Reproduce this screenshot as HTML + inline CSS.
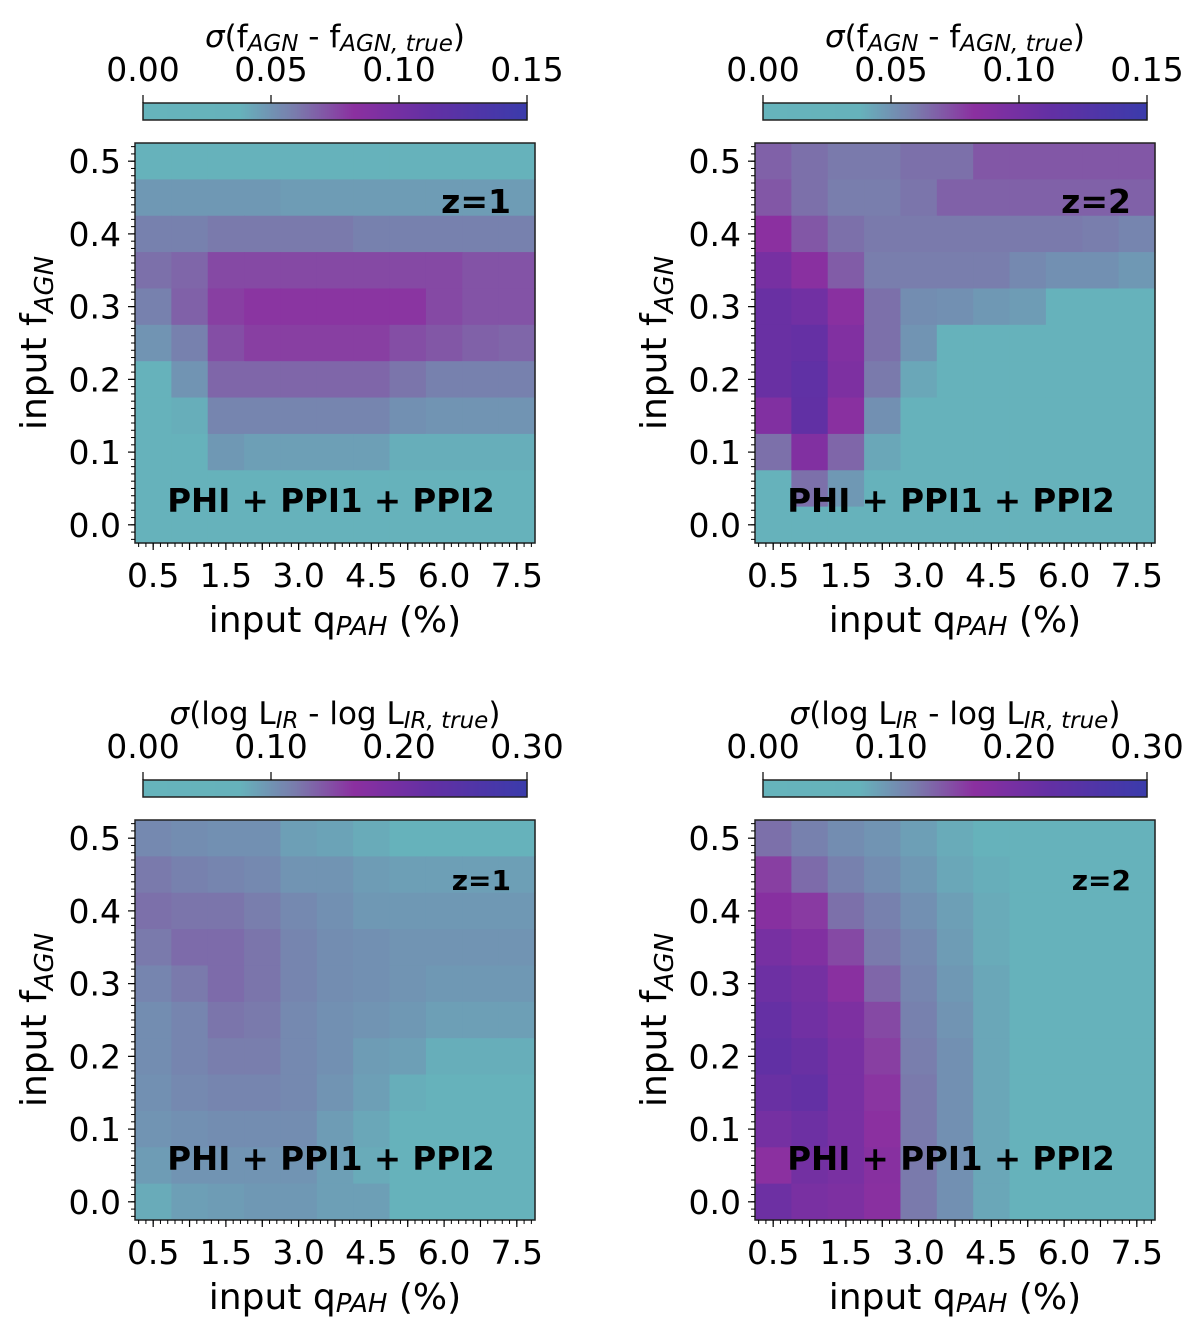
<!DOCTYPE html>
<html><head><meta charset="utf-8">
<style>
html,body{margin:0;padding:0;background:#fff;}
svg{display:block;font-family:"DejaVu Sans","Liberation Sans",sans-serif;}
</style></head>
<body>
<svg id="fig" width="1200" height="1319" viewBox="0 0 1200 1319" xmlns="http://www.w3.org/2000/svg"></svg>
<script>
// Category labels (input qPAH %), 11 columns; labels shown every other column
const xTickLabels = ["0.5","","1.5","","3.0","","4.5","","6.0","","7.5"];
// input f_AGN row values, bottom to top
const yValues = [0.0,0.05,0.1,0.15,0.2,0.25,0.3,0.35,0.4,0.45,0.5];
const yTickLabels = ["0.0","0.1","0.2","0.3","0.4","0.5"];
const cbTicksFagn = ["0.00","0.05","0.10","0.15"];
const cbTicksLir = ["0.00","0.10","0.20","0.30"];
const vmaxFagn = 0.15, vmaxLir = 0.30;
// Values are normalized to the colour bar (value / vmax); rows listed top (0.5) to bottom (0.0)
const fagnZ1 = [
[0.2,0.2,0.2,0.2,0.2,0.2,0.2,0.2,0.2,0.2,0.2],
[0.32,0.32,0.32,0.32,0.31,0.31,0.31,0.31,0.31,0.31,0.31],
[0.38,0.38,0.40,0.40,0.40,0.40,0.38,0.38,0.38,0.38,0.38],
[0.42,0.44,0.50,0.50,0.50,0.50,0.50,0.50,0.50,0.48,0.48],
[0.38,0.45,0.52,0.54,0.54,0.54,0.54,0.54,0.50,0.48,0.48],
[0.33,0.38,0.49,0.52,0.52,0.52,0.52,0.49,0.47,0.45,0.44],
[0.22,0.33,0.44,0.44,0.44,0.44,0.44,0.41,0.38,0.38,0.38],
[0.22,0.26,0.37,0.37,0.37,0.37,0.37,0.34,0.33,0.33,0.33],
[0.2,0.2,0.32,0.30,0.30,0.30,0.30,0.26,0.26,0.26,0.26],
[0.2,0.2,0.2,0.2,0.2,0.2,0.2,0.2,0.2,0.2,0.2],
[0.2,0.2,0.2,0.2,0.2,0.2,0.2,0.2,0.2,0.2,0.2]];
const fagnZ2 = [
[0.45,0.42,0.40,0.40,0.42,0.42,0.47,0.47,0.47,0.47,0.47],
[0.47,0.42,0.39,0.39,0.41,0.45,0.45,0.45,0.45,0.45,0.45],
[0.55,0.47,0.42,0.40,0.40,0.40,0.40,0.40,0.40,0.39,0.37],
[0.65,0.56,0.46,0.39,0.39,0.39,0.39,0.36,0.34,0.34,0.32],
[0.72,0.68,0.56,0.42,0.35,0.34,0.32,0.31,0.2,0.2,0.2],
[0.72,0.74,0.60,0.42,0.33,0.2,0.2,0.2,0.2,0.2,0.2],
[0.72,0.77,0.62,0.40,0.28,0.2,0.2,0.2,0.2,0.2,0.2],
[0.60,0.76,0.56,0.34,0.2,0.2,0.2,0.2,0.2,0.2,0.2],
[0.42,0.60,0.44,0.28,0.2,0.2,0.2,0.2,0.2,0.2,0.2],
[0.2,0.42,0.32,0.2,0.2,0.2,0.2,0.2,0.2,0.2,0.2],
[0.2,0.2,0.2,0.2,0.2,0.2,0.2,0.2,0.2,0.2,0.2]];
const lirZ1 = [
[0.36,0.35,0.34,0.34,0.30,0.29,0.27,0.24,0.24,0.24,0.24],
[0.40,0.38,0.37,0.36,0.33,0.33,0.31,0.30,0.30,0.30,0.30],
[0.42,0.41,0.41,0.39,0.36,0.34,0.32,0.32,0.32,0.32,0.32],
[0.40,0.43,0.43,0.41,0.37,0.35,0.34,0.33,0.33,0.33,0.33],
[0.37,0.40,0.43,0.41,0.37,0.35,0.34,0.33,0.32,0.32,0.32],
[0.35,0.37,0.41,0.40,0.36,0.34,0.33,0.32,0.30,0.30,0.30],
[0.35,0.37,0.39,0.39,0.36,0.34,0.31,0.30,0.26,0.26,0.26],
[0.34,0.36,0.37,0.37,0.36,0.33,0.30,0.26,0.23,0.23,0.23],
[0.33,0.34,0.35,0.35,0.35,0.31,0.28,0.25,0.22,0.22,0.22],
[0.31,0.33,0.33,0.33,0.33,0.30,0.27,0.22,0.22,0.22,0.22],
[0.27,0.30,0.31,0.32,0.32,0.30,0.30,0.22,0.22,0.22,0.22]];
const lirZ2 = [
[0.42,0.38,0.35,0.33,0.30,0.27,0.25,0.22,0.22,0.22,0.22],
[0.52,0.43,0.38,0.35,0.32,0.28,0.26,0.22,0.22,0.22,0.22],
[0.57,0.53,0.42,0.38,0.34,0.30,0.27,0.22,0.22,0.22,0.22],
[0.65,0.60,0.50,0.40,0.36,0.31,0.27,0.22,0.22,0.22,0.22],
[0.70,0.66,0.56,0.44,0.37,0.32,0.28,0.22,0.22,0.22,0.22],
[0.74,0.68,0.62,0.50,0.38,0.33,0.28,0.22,0.22,0.22,0.22],
[0.76,0.72,0.64,0.52,0.39,0.34,0.28,0.22,0.22,0.22,0.22],
[0.72,0.75,0.64,0.54,0.40,0.34,0.28,0.22,0.22,0.22,0.22],
[0.66,0.70,0.64,0.55,0.40,0.34,0.28,0.22,0.22,0.22,0.22],
[0.55,0.67,0.64,0.57,0.40,0.34,0.28,0.22,0.22,0.22,0.22],
[0.70,0.64,0.62,0.56,0.40,0.34,0.28,0.22,0.22,0.22,0.22]];

const NS="http://www.w3.org/2000/svg";
const svg=document.getElementById('fig');
const stops=[[0,[102,180,188]],[0.25,[102,178,187]],[0.4,[122,122,172]],[0.55,[139,48,160]],[0.75,[99,48,164]],[1,[59,59,171]]];
function cmap(t){t=Math.max(0,Math.min(1,t));
 for(let i=1;i<stops.length;i++){if(t<=stops[i][0]){const a=stops[i-1],b=stops[i];const f=(t-a[0])/(b[0]-a[0]);
  const c=a[1].map((v,k)=>Math.round(v+(b[1][k]-v)*f));return `rgb(${c[0]},${c[1]},${c[2]})`;}}
 return 'rgb(59,59,171)';}
function el(tag,attrs,parent){const e=document.createElementNS(NS,tag);for(const k in attrs)e.setAttribute(k,attrs[k]);(parent||svg).appendChild(e);return e;}

function panel(px,py,data,ticks,vmax,cbTitleHTML,zLabel,zSize,cbY,labOff,name){
 const g=el('g',{});
 
 
 const W=400,H=400,n=11,cw=W/n,ch=H/n;
 const xs=i=>px+i*cw;
 const ys=v=>py+H-(v+0.025)/0.55*H;
 for(let r=0;r<n;r++)for(let c=0;c<n;c++){
  const v=data[r][c];
  const yv=yValues[n-1-r];
  const rc=el('rect',{x:xs(c),y:ys(yv)-ch/2,width:cw+0.6,height:ch+0.6,fill:cmap(v)},g);
  
  
 }
 const fr=el('rect',{x:px,y:py,width:W,height:H,fill:'none',stroke:'#222','stroke-width':1.5},g);
 
 
 for(let i=0;i<n;i++){const x=xs(i)+cw/2;el('line',{x1:x,y1:py+H,x2:x,y2:py+H+7,stroke:'#000','stroke-width':1.2},g);
  if(xTickLabels[i]){const t=el('text',{x:x,y:py+H+44,'font-size':33,'text-anchor':'middle'},g);t.textContent=xTickLabels[i];
   }}
 for(let k=0;k<=n*5;k++){const x=px+k*cw/5+cw/10;if(x>px+W)break;el('line',{x1:x,y1:py+H,x2:x,y2:py+H+4,stroke:'#000','stroke-width':1},g);}
 yTickLabels.forEach(l=>{const v=parseFloat(l);const y=ys(v);el('line',{x1:px,y1:y,x2:px-7,y2:y,stroke:'#000','stroke-width':1.2},g);
  const t=el('text',{x:px-14,y:y+12,'font-size':33,'text-anchor':'end'},g);t.textContent=l;
  });
 for(let k=-2;k<=52;k++){const y=ys(k/100);if(y<py||y>py+H)continue;el('line',{x1:px,y1:y,x2:px-4,y2:y,stroke:'#000','stroke-width':1},g);}
 const xt=el('text',{x:px+W/2,y:py+H+89,'font-size':36,'text-anchor':'middle'},g);
 xt.innerHTML='input q<tspan font-size="26" font-style="italic" dy="3">PAH</tspan><tspan dy="-3"> (%)</tspan>';
 
 const yt=el('text',{x:0,y:0,'font-size':36,'text-anchor':'middle',transform:`translate(${px-89},${py+H/2}) rotate(-90)`},g);
 yt.innerHTML='input f<tspan font-size="26" font-style="italic" dy="7">AGN</tspan>';
 
 const zt=el('text',{x:px+W-24,y:py+70,'font-size':zSize,'font-weight':'bold','text-anchor':'end'},g);zt.textContent=zLabel;
 
 const pt=el('text',{x:px+196,y:py+H-labOff,'font-size':32.5,'font-weight':'bold','text-anchor':'middle'},g);pt.textContent='PHI + PPI1 + PPI2';
 
 const cx=px+8,cwid=384,chh=17;
 const cb=el('g',{},g);
 
 for(let k=0;k<192;k++){el('rect',{x:cx+k*2,y:cbY,width:2.6,height:chh,fill:cmap(k/191)},cb);}
 el('rect',{x:cx,y:cbY,width:cwid,height:chh,fill:'none',stroke:'#222','stroke-width':1.5},cb);
 ticks.forEach((l,i)=>{const x=cx+cwid*parseFloat(l)/vmax;el('line',{x1:x,y1:cbY,x2:x,y2:cbY-8,stroke:'#000','stroke-width':1.2},cb);
  const t=el('text',{x:x,y:cbY-22,'font-size':33,'text-anchor':'middle'},cb);t.textContent=l;
  });
 const ct=el('text',{x:cx+cwid/2,y:cbY-56,'font-size':31,'text-anchor':'middle'},cb);ct.innerHTML=cbTitleHTML;
 
}
const tF='<tspan font-style="italic">σ</tspan>(f<tspan font-size="23" font-style="italic" dy="4">AGN</tspan><tspan dy="-4"> - f</tspan><tspan font-size="23" font-style="italic" dy="4">AGN, true</tspan><tspan dy="-4">)</tspan>';
const tL='<tspan font-style="italic">σ</tspan>(log L<tspan font-size="23" font-style="italic" dy="4">IR</tspan><tspan dy="-4"> - log L</tspan><tspan font-size="23" font-style="italic" dy="4">IR, true</tspan><tspan dy="-4">)</tspan>';
panel(135,143,fagnZ1,cbTicksFagn,vmaxFagn,tF,'z=1',33,103,31,'panel-fagn-z1');
panel(755,143,fagnZ2,cbTicksFagn,vmaxFagn,tF,'z=2',33,103,31,'panel-fagn-z2');
panel(135,820,lirZ1,cbTicksLir,vmaxLir,tL,'z=1',28,780,50,'panel-lir-z1');
panel(755,820,lirZ2,cbTicksLir,vmaxLir,tL,'z=2',28,780,50,'panel-lir-z2');
</script>
</body></html>
